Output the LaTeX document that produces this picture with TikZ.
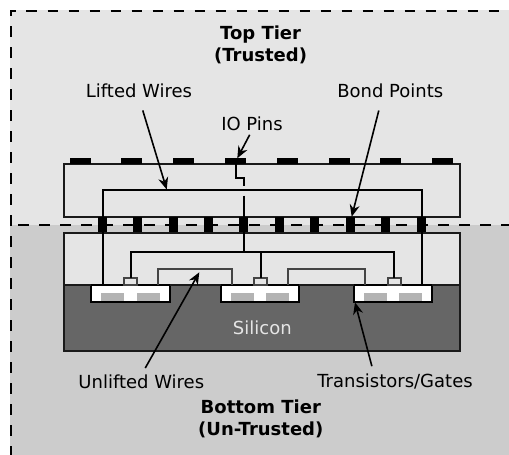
\documentclass[tikz,border=0pt]{standalone}
\usepackage{fontspec}
\setmainfont{DejaVu Sans}
\usetikzlibrary{arrows.meta, positioning}
\definecolor{tierlight}{HTML}{E5E5E5}
\definecolor{tierdark}{HTML}{CCCCCC}
\definecolor{silicon}{HTML}{666666}
\definecolor{diffusion}{HTML}{B3B3B3}
\definecolor{ink}{HTML}{1A1A1A}
\definecolor{inksoft}{HTML}{444444}

\begin{document}
\begin{tikzpicture}[
      x=1pt, y=-1pt,
      every node/.style={inner sep=0pt, outer sep=0pt},
      lbl/.style={font=\fontsize{18}{20}\selectfont},
      tierlbl/.style={font=\fontsize{18}{20}\selectfont\bfseries},
      layer/.style={draw=ink, line width=2pt, fill=tierlight},
      pin/.style={fill=black, minimum width=20.7pt, minimum height=6pt},
      bond/.style={fill=black, minimum width=9pt, minimum height=15.3pt},
      fet/.style={draw=black, line width=2pt, fill=white, minimum height=17pt},
      gate/.style={draw=inksoft, line width=2pt, fill=tierlight, minimum width=13pt, minimum height=7.4pt},
      diff/.style={fill=diffusion, minimum width=23pt, minimum height=7.7pt},
      wire/.style={draw=black, line width=2pt},
      uwire/.style={draw=inksoft, line width=2pt},
      frame/.style={draw=black, line width=2pt, dash pattern=on 10.5pt off 10.5pt},
      ar/.style={-{Stealth[length=12pt, width=10pt]}, draw=black, line width=1.6pt}
    ]
    \useasboundingbox (0,0) rectangle (509,455);
    % tiers
    \fill[tierlight] (10,10) rectangle (509,224.7);
    \fill[tierdark] (10,224.7) rectangle (509,455);
    \draw[layer] (63.5,164) rectangle (459.5,217);
    \draw[layer] (63.5,232.5) rectangle (459.5,285);
    \draw[layer, fill=silicon] (63.5,285) rectangle (459.5,351);
    % pins
    \node[pin] (pin1) at (80.5,161) {};
    \node[pin] (pin2) at (131.5,161) {};
    \node[pin] (pin3) at (183.5,161) {};
    \node[pin] (pin4) at (235.7,161) {};
    \node[pin] (pin5) at (287.5,161) {};
    \node[pin] (pin6) at (339.5,161) {};
    \node[pin] (pin7) at (390.5,161) {};
    \node[pin] (pin8) at (442.5,161) {};
    % transistors
    \node[fet, minimum width=79pt] (fet1) at (130.2,293.5) {};
    \node[fet, minimum width=78.6pt] (fet2) at (260,293.5) {};
    \node[fet, minimum width=78.3pt] (fet3) at (393.2,293.5) {};
    \node[diff] at (112.5,296.9) (d1) {}; \node[diff] at (148.5,296.9) (d2) {};
    \node[diff] at (242.5,296.9) (d3) {}; \node[diff] at (277.5,296.9) (d4) {};
    \node[diff] at (375.5,296.9) (d5) {}; \node[diff] at (410.5,296.9) (d6) {};
    \draw[layer, fill=none] (63.5,285) -- (90.7,285) (169.7,285) -- (220.7,285) (299.3,285) -- (354,285) (432.3,285) -- (459.5,285);
    \node[gate] (g1) at (130.7,281.3) {};
    \node[gate] (g2) at (260.7,281.3) {};
    \node[gate] (g3) at (394,281.3) {};
    % bond points
    \node[bond] (b1) at (102.5,224.7) {};
    \node[bond] (b2) at (137.2,224.7) {};
    \node[bond] (b3) at (173.5,224.7) {};
    \node[bond] (b4) at (208.5,224.7) {};
    \node[bond] (b5) at (243.7,224.7) {};
    \node[bond] (b6) at (279.5,224.7) {};
    \node[bond] (b7) at (314.5,224.7) {};
    \node[bond] (b8) at (350.5,224.7) {};
    \node[bond] (b9) at (385.5,224.7) {};
    \node[bond] (b10) at (421.5,224.7) {};
    % wires
    \coordinate (liftL) at (102.5,190);
    \coordinate (liftR) at (421.5,190);
    \coordinate (joint) at (243.7,251.7);
    \coordinate (jog) at (243.7,178.3);
    \coordinate (jogEnd) at (243.7,185.7);
    \coordinate (jogGap) at (243.7,195.7);
    \coordinate (footL) at (102.5,285);
    \coordinate (footR) at (421.5,285);
    \draw[wire] (footL) -- (b1) -- (liftL) -- (liftR) -- (b10) -- (footR);
    \draw[wire] (pin4.south) |- (jog) -- (jogEnd);
    \draw[wire] (jogGap) -- (b5) -- (joint);
    \draw[wire] (g1.north) |- (joint) -| (g3.north);
    \draw[wire] (g2.north) -- (g2.north |- joint);
    \coordinate (u1) at (158.3,285); \coordinate (u2) at (232,285);
    \coordinate (u3) at (288.3,285); \coordinate (u4) at (365,285);
    \draw[uwire] (u1) -- ++(0,-15.7) -| (u2);
    \draw[uwire] (u3) -- ++(0,-15.7) -| (u4);
    % boundaries
    \draw[frame, dash phase=1.5pt] (10.5,455) -- (10.5,10.5) -- (509,10.5);
    \draw[frame] (18,224.7) -- (509,224.7);
    % labels
    \node[tierlbl] (top) at (260.6,34.5) {Top Tier};
    \node[tierlbl] (trusted) at (260.6,56) {(Trusted)};
    \node[lbl] (lifted) at (139,91) {Lifted Wires};
    \node[lbl] (bondpts) at (390.3,91) {Bond Points};
    \node[lbl] (io) at (252,123.4) {IO Pins};
    \node[lbl, text=tierlight] (si) at (262.3,328) {Silicon};
    \node[lbl] (unlifted) at (141.3,382) {Unlifted Wires};
    \node[lbl] (trans) at (395,381.6) {Transistors/Gates};
    \node[tierlbl] (bottom) at (260.8,406.7) {Bottom Tier};
    \node[tierlbl] (untrusted) at (260.8,430) {(Un-Trusted)};
    % arrows
    \coordinate (tLifted) at (166.7,189.5);
    \coordinate (tBond) at (351.7,216.7);
    \coordinate (tIo) at (237.3,158.3);
    \coordinate (tUnl) at (199.3,272.3);
    \coordinate (tTrans) at (355,302.3);
    \draw[ar, shorten <=13pt] (lifted.south) -- (tLifted);
    \draw[ar, shorten <=13pt] (bondpts.-140) -- (tBond);
    \draw[ar, shorten <=5pt] (io.south) -- (tIo);
    \draw[ar, shorten <=8pt] (unlifted.north) -- (tUnl);
    \draw[ar, shorten <=8pt] (trans.160) -- (tTrans);
  \end{tikzpicture}
\end{document}
